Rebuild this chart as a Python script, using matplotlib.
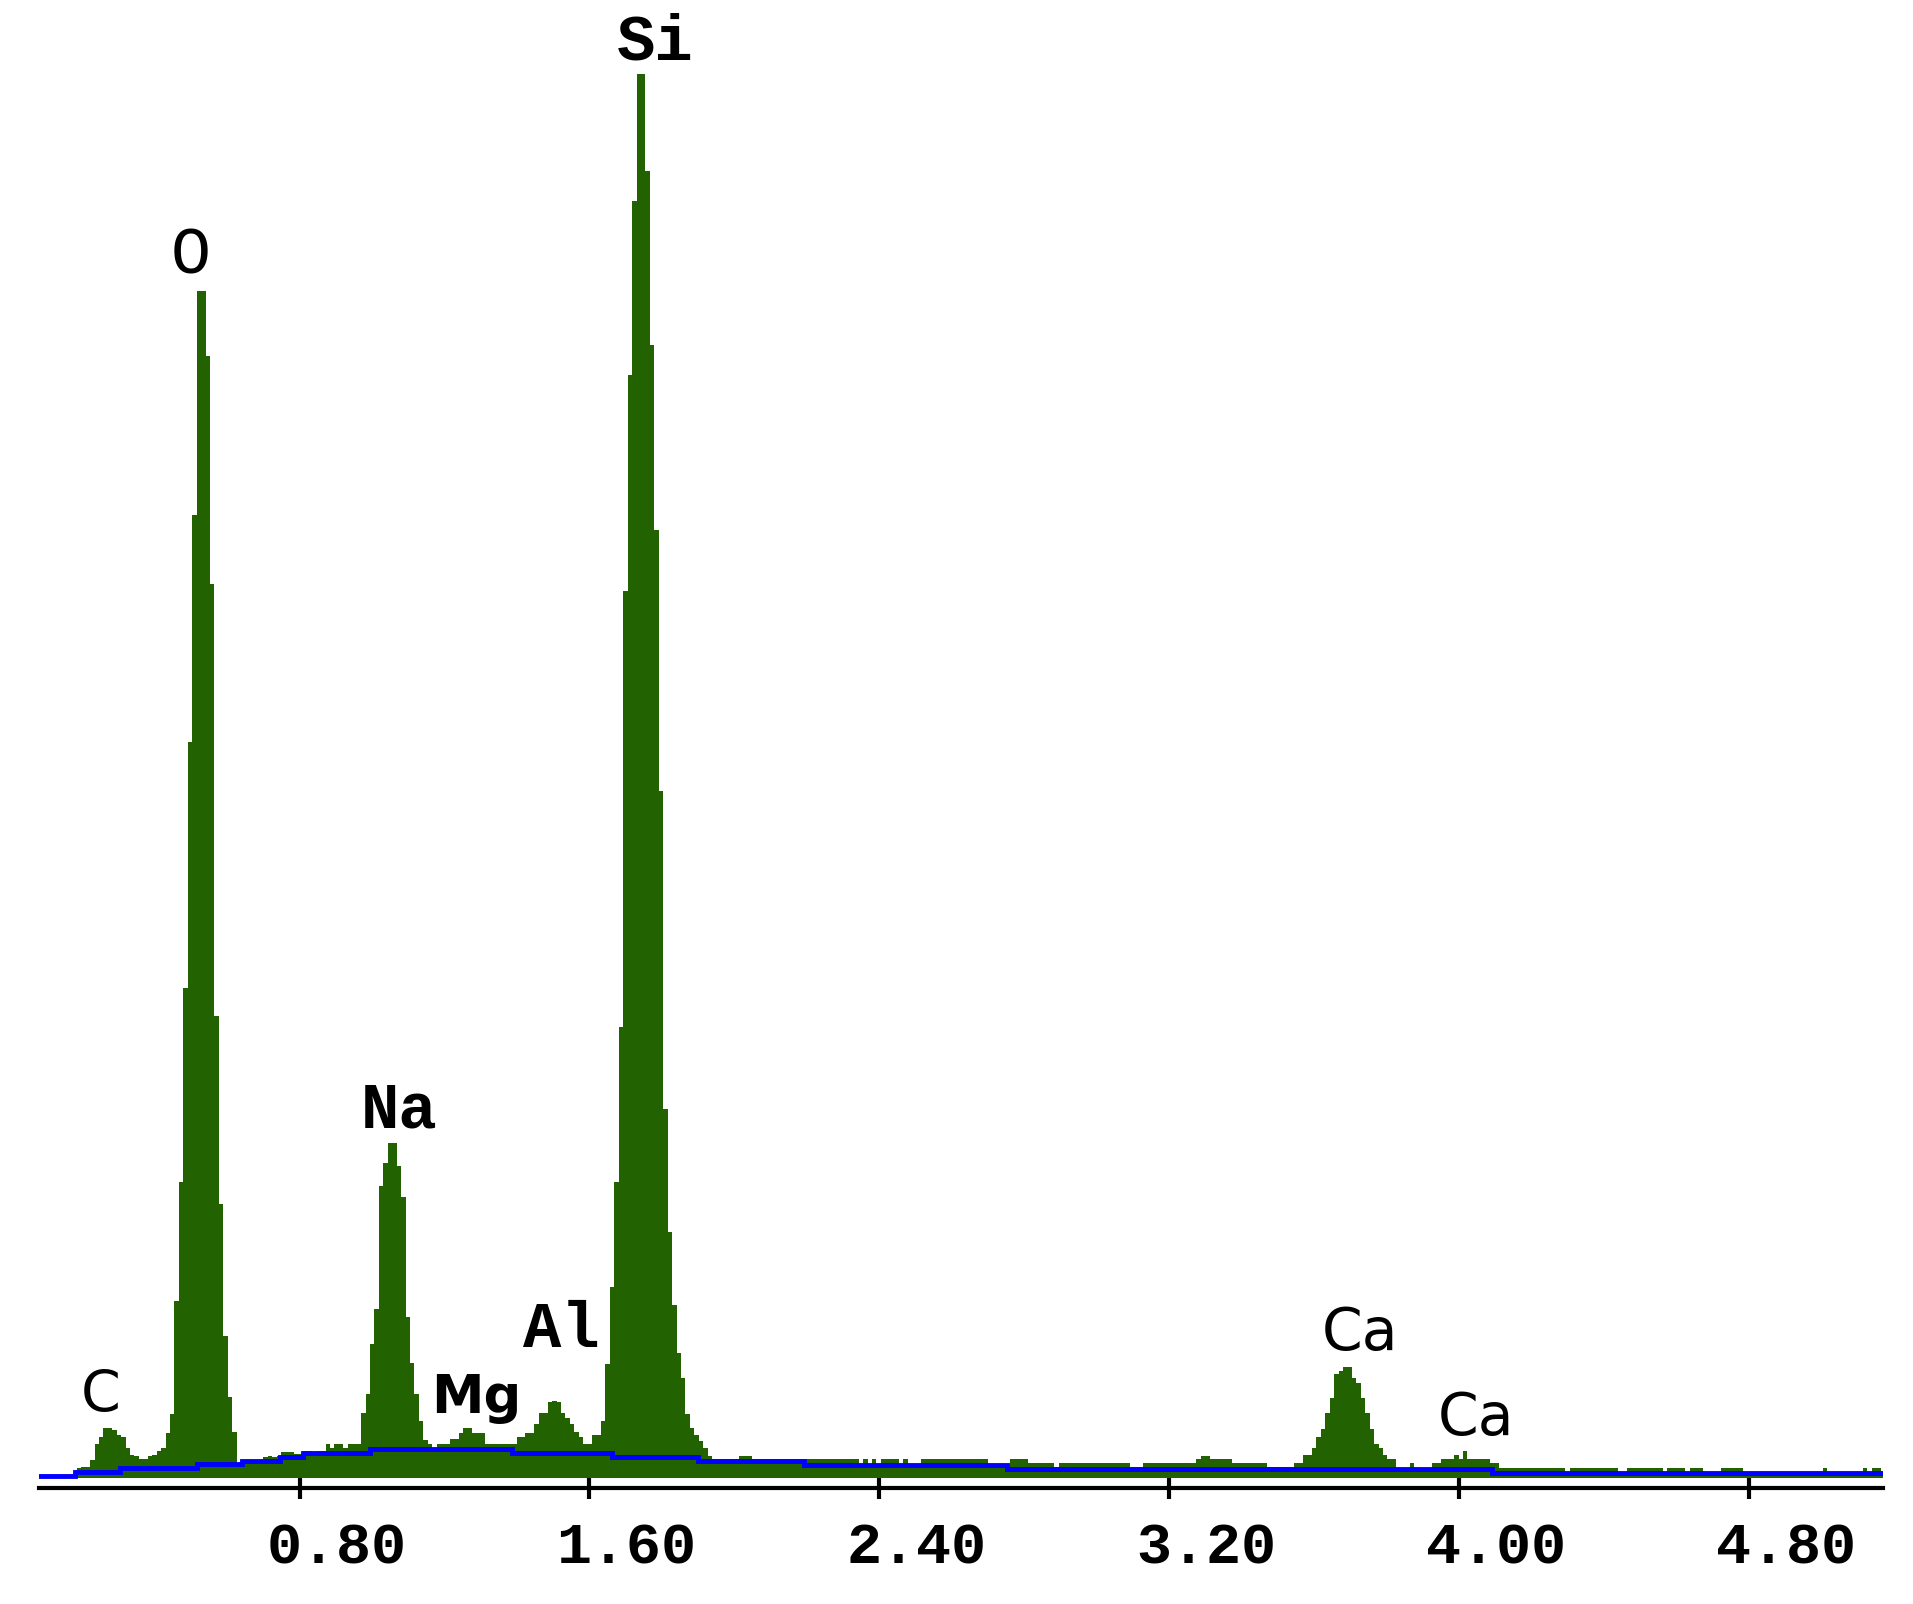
import numpy as np
import matplotlib.pyplot as plt
import matplotlib.transforms as mtransforms
from matplotlib.ticker import FormatStrFormatter

# EDS spectrum, counts per channel
chan_start_kev = 0.0749
chan_width_kev = 0.01226
counts = [
    1, 1, 1, 1, 1, 1, 1, 1, 1, 10,
    11, 11, 18, 34, 41, 50, 50, 48, 43, 41,
    30, 23, 22, 19, 19, 22, 23, 27, 30, 45,
    64, 177, 296, 490, 736, 963, 1187, 1187, 1122, 894,
    462, 274, 142, 81, 46, 15, 17, 17, 18, 17,
    18, 21, 22, 21, 22, 26, 26, 26, 24, 24,
    27, 27, 26, 27, 27, 34, 30, 34, 34, 30,
    34, 34, 34, 65, 84, 134, 169, 292, 315, 335,
    335, 312, 281, 161, 115, 84, 57, 38, 34, 30,
    34, 34, 34, 39, 39, 45, 50, 50, 45, 45,
    45, 34, 34, 34, 34, 34, 34, 34, 41, 41,
    45, 45, 54, 65, 65, 76, 77, 76, 65, 60,
    54, 46, 41, 34, 34, 43, 43, 57, 114, 191,
    296, 451, 887, 1103, 1277, 1404, 1404, 1307, 1133, 948,
    687, 369, 246, 173, 125, 100, 64, 50, 43, 37,
    30, 22, 19, 19, 19, 19, 19, 19, 22, 22,
    22, 19, 19, 19, 19, 19, 19, 19, 19, 19,
    19, 19, 19, 19, 19, 19, 19, 19, 19, 19,
    19, 19, 19, 19, 19, 14, 19, 14, 19, 14,
    19, 19, 19, 19, 14, 19, 14, 14, 14, 19,
    19, 19, 19, 19, 19, 19, 19, 19, 19, 19,
    19, 19, 19, 19, 13, 13, 13, 13, 13, 19,
    19, 19, 19, 15, 15, 15, 15, 15, 15, 11,
    15, 15, 15, 15, 15, 15, 15, 15, 15, 15,
    15, 15, 15, 15, 15, 15, 11, 11, 11, 15,
    15, 15, 15, 15, 15, 15, 15, 15, 15, 15,
    15, 19, 22, 22, 19, 19, 19, 19, 19, 15,
    15, 15, 15, 15, 15, 15, 15, 11, 11, 11,
    11, 11, 11, 15, 15, 23, 23, 30, 41, 49,
    65, 80, 104, 107, 111, 111, 100, 95, 80, 65,
    49, 34, 30, 23, 19, 19, 9, 9, 9, 15,
    9, 9, 9, 9, 15, 15, 19, 19, 19, 23,
    19, 27, 19, 19, 19, 19, 19, 15, 15, 10,
    10, 10, 10, 10, 10, 10, 10, 10, 10, 10,
    10, 10, 10, 10, 6, 10, 10, 10, 10, 10,
    10, 10, 10, 10, 10, 10, 6, 6, 10, 10,
    10, 10, 10, 10, 10, 10, 6, 10, 10, 10,
    10, 6, 10, 10, 10, 6, 6, 6, 6, 10,
    10, 10, 10, 10, 6, 6, 6, 6, 6, 6,
    6, 6, 6, 6, 6, 6, 6, 6, 6, 6,
    6, 6, 10, 6, 6, 6, 6, 6, 6, 6,
    6, 10, 6, 10, 10, 6,
]

# background fit (blue step line)
bg_edges_kev = [0.078, 0.181, 0.305, 0.517, 0.641, 0.746, 0.810, 0.994,
                1.386, 1.662, 1.900, 2.192, 2.752, 4.091, 5.172]
bg_counts = [2, 6, 10.5, 14, 17.5, 21.5, 25, 28.7, 25, 21, 17, 13.5, 9.3, 5]

# peak labels
peak_names = ["C", "O", "Na", "Mg", "Al", "Si", "Ca", "Ca"]
peak_label_kev = [0.252, 0.500, 1.075, 1.287, 1.522, 1.781, 3.725, 4.046]
peak_label_counts = [66, 1205, 351, 65, 131, 1419, 128, 43]

tick_kev = [0.80, 1.60, 2.40, 3.20, 4.00, 4.80]

GREEN = "#226200"
MONO = "Liberation Mono"
SANS = "DejaVu Sans"
label_fonts = [
    (SANS, "normal", 41),
    (MONO, "normal", 48),
    (MONO, "bold", 46),
    (SANS, "bold", 38),
    (MONO, "bold", 46),
    (MONO, "bold", 46),
    (SANS, "normal", 42),
    (SANS, "normal", 42),
]

fig = plt.figure(figsize=(19.13, 16.04), dpi=100)
ax = fig.add_axes([39 / 1913, 116 / 1604, 1844 / 1913, 1488 / 1604])

edges = chan_start_kev + chan_width_kev * np.arange(len(counts) + 1)
ax.stairs(counts, edges, fill=True, color=GREEN, baseline=0, zorder=2)
ax.stairs(bg_counts, bg_edges_kev, baseline=None, color="#0000ff",
          linewidth=3.5, zorder=3)

for name, x, y, (fam, wt, sz) in zip(peak_names, peak_label_kev,
                                     peak_label_counts, label_fonts):
    ax.text(x, y, name, ha="center", va="baseline", family=fam,
            weight=wt, fontsize=sz, color="black", zorder=4)

ax.set_xlim(0.0811, 5.1694)
ax.set_ylim(-10, 1478)

for s in ["top", "left", "right"]:
    ax.spines[s].set_visible(False)
ax.spines["bottom"].set_linewidth(3.0)
ax.spines["bottom"].set_color("black")

ax.set_yticks([])
ax.set_xticks(tick_kev)
ax.xaxis.set_major_formatter(FormatStrFormatter("%.2f"))
ax.tick_params(axis="x", direction="inout", length=16, width=3, pad=16,
               colors="black")
# the labels sit a little to the right of their ticks in the original
shift = mtransforms.ScaledTranslation(0.37, 0, fig.dpi_scale_trans)
for lab in ax.get_xticklabels():
    lab.set_family(MONO)
    lab.set_weight("bold")
    lab.set_fontsize(42)
    lab.set_transform(lab.get_transform() + shift)

fig.savefig("out.png", dpi=100, facecolor="white")
